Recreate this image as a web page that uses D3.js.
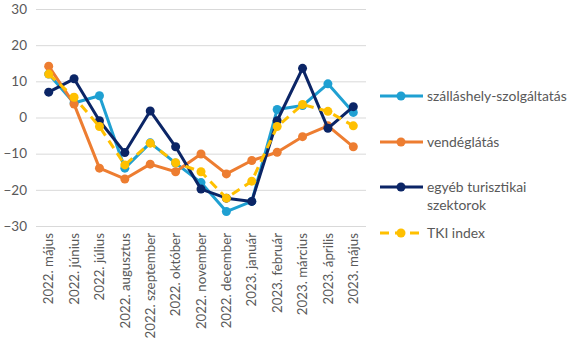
<!DOCTYPE html>
<html lang="hu">
<head>
<meta charset="UTF-8">
<script src="https://d3js.org/d3.v7.min.js"></script>
<style>
  body { margin: 0; background: #fff; }
  svg text { font-family: Lato, "Open Sans", sans-serif; fill: #595959; }
</style>
</head>
<body>
<script>
const months = ["2022. május", "2022. június", "2022. július", "2022. augusztus",
  "2022. szeptember", "2022. október", "2022. november", "2022. december",
  "2023. január", "2023. február", "2023. március", "2023. április", "2023. május"];

const szallas = [12, 4, 6, -14, -7, -12.6, -18, -26, -23.2, 2.2, 3.3, 9.3, 1.4];
const vendeg = [14.2, 3.7, -14, -17, -12.9, -15, -10.1, -15.6, -11.9, -9.6, -5.3, -2.3, -8.1];
const egyeb = [7, 10.7, -0.9, -9.7, 1.8, -8.1, -19.8, -22.3, -23.2, -0.9, 13.6, -3, 3];
const tki = [12, 5.6, -2.5, -13.1, -7.1, -12.5, -15, -22.3, -17.6, -2.5, 3.6, 1.7, -2.3];

const yTicks = [-30, -20, -10, 0, 10, 20, 30];

const series = [
  { name: "szálláshely-szolgáltatás", values: szallas, color: "#1FA0D2", dash: null },
  { name: "vendéglátás", values: vendeg, color: "#ED7D31", dash: null },
  { name: "egyéb turisztikai szektorok", values: egyeb, color: "#0B2566", dash: null },
  { name: "TKI index", values: tki, color: "#FFC000", dash: "9,6" }
];

const width = 580, height = 346;
const margin = { top: 9, right: 214, bottom: 120, left: 36 };

const svg = d3.select("body").append("svg")
  .attr("width", width).attr("height", height);

const x = d3.scaleBand().domain(months).range([margin.left, width - margin.right]);
const y = d3.scaleLinear().domain([-30, 30]).range([height - margin.bottom, margin.top]);

// grid + y labels
const yAxis = g => g
  .attr("transform", `translate(${margin.left},0)`)
  .call(d3.axisLeft(y).tickValues(yTicks).tickSize(-(width - margin.right - margin.left)).tickPadding(9))
  .call(g => g.select(".domain").remove())
  .call(g => g.selectAll(".tick line").attr("stroke", "#D9D9D9").attr("stroke-width", 1))
  .call(g => g.selectAll(".tick text").attr("font-size", 13.5).attr("fill", "#595959"));
svg.append("g").call(yAxis);

// category labels
const xAxis = g => g
  .attr("transform", `translate(0,${y(-30)})`)
  .call(d3.axisBottom(x).tickSize(0))
  .call(g => g.select(".domain").remove())
  .call(g => g.selectAll(".tick text")
    .attr("font-size", 13.3)
    .attr("text-anchor", "end")
    .attr("transform", "rotate(-90)")
    .attr("x", -7).attr("y", 0).attr("dy", "0.35em"));
svg.append("g").call(xAxis);

const line = d3.line()
  .x((d, i) => x(months[i]) + x.bandwidth() / 2)
  .y(d => y(d));

series.forEach(s => {
  svg.append("path")
    .datum(s.values)
    .attr("fill", "none")
    .attr("stroke", s.color)
    .attr("stroke-width", 3)
    .attr("stroke-linejoin", "round")
    .attr("stroke-dasharray", s.dash)
    .attr("d", line);
  svg.append("g").selectAll("circle")
    .data(s.values)
    .join("circle")
    .attr("cx", (d, i) => x(months[i]) + x.bandwidth() / 2)
    .attr("cy", d => y(d))
    .attr("r", 4.5)
    .attr("fill", s.color);
});

// legend
const legendRows = [
  { s: series[0], y: 96, lines: ["szálláshely-szolgáltatás"] },
  { s: series[1], y: 142, lines: ["vendéglátás"] },
  { s: series[2], y: 187, lines: ["egyéb turisztikai", "szektorok"] },
  { s: series[3], y: 233, lines: ["TKI index"] }
];
const lg = svg.append("g");
legendRows.forEach(r => {
  lg.append("line")
    .attr("x1", 380).attr("x2", 423)
    .attr("y1", r.y).attr("y2", r.y)
    .attr("stroke", r.s.color).attr("stroke-width", 3)
    .attr("stroke-dasharray", r.s.dash ? "9,6" : null);
  lg.append("circle").attr("cx", 401).attr("cy", r.y).attr("r", 4.5).attr("fill", r.s.color);
  r.lines.forEach((t, i) => {
    lg.append("text")
      .attr("x", 427).attr("y", r.y + i * 18)
      .attr("dy", "0.35em")
      .attr("font-size", 13.9)
      .text(t);
  });
});
</script>
</body>
</html>
